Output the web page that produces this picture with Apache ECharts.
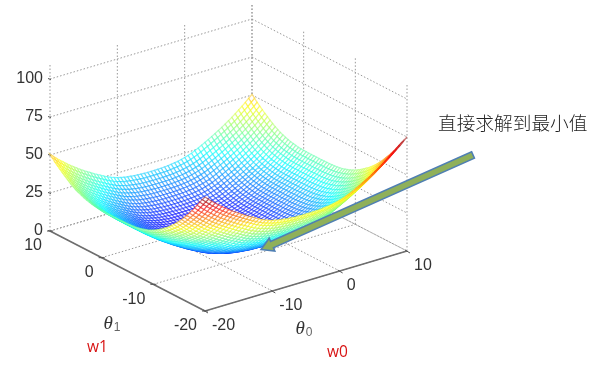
<!DOCTYPE html>
<html>
<head>
<meta charset="utf-8">
<style>html,body{margin:0;padding:0;background:#fff}#c{width:592px;height:381px}</style>
<script src="https://cdn.jsdelivr.net/npm/echarts@6/dist/echarts.min.js"></script>
</head>
<body>
<div id="c"></div>
<script>
// ---- values ----
const theta0Ticks = [-20, -10, 0, 10];
const theta1Ticks = [-20, -10, 0, 10];
const zTicks = [0, 25, 50, 75, 100];
const zMaxWall = 110;
const zColorMax = 75;
const meshStep = 0.5;
// height contribution along theta0, from -20 to 10 every 0.5
const bowlAlongTheta0 = [31,28.9,26.9,25,23.2,21.4,19.7,18.1,16.6,15.1,13.7,12.3,11,9.7,8.5,7.3,6.1,5,4,3.2,2.5,1.9,1.4,1,0.7,0.45,0.25,0.1,0.05,0,
  0,
  0,0.05,0.1,0.25,0.45,0.7,1,1.4,1.9,2.5,3.2,4,5,6.1,7.3,8.5,9.7,11,12.3,13.7,15.1,16.6,18.1,19.7,21.4,23.2,25,26.9,28.9,31];
// height contribution along theta1, from -20 to 10 every 0.5
const bowlAlongTheta1 = [44,41.4,38.9,36,33.3,30.7,28.2,25.8,23.5,21.3,19.2,17.2,15.4,13.7,12.1,10.6,9.3,8,6.8,5.7,4.7,3.8,3,2.4,1.8,1.3,0.9,0.6,0.4,0.25,0.15,0.1,0.05,0,0,0,
  0,
  0,0,0.05,0.1,0.2,0.4,0.7,1,1.4,1.9,2.5,3.2,4,5,6,7.2,8.5,9.9,11.3,12.8,14.3,15.9,17.7,19.5];
const annotation = '直接求解到最小值';
const redLabelTheta1 = 'w1';
const redLabelTheta0 = 'w0';

// ---- camera: parallel projection onto the page plane ----
function project(t0, t1, z) {
  const u = (t0 + 20) / 30, v = (t1 + 20) / 30;
  return [205 + 202 * u - 155 * v, 311 - 60 * u - 80 * v - 1.52 * z];
}
function jet(f) {
  f = Math.max(0, Math.min(1, f));
  const c = x => Math.round(255 * Math.max(0, Math.min(1, 1.5 - Math.abs(4 * f - x))));
  return 'rgb(' + c(3) + ',' + c(2) + ',' + c(1) + ')';
}

// ---- walls, floor, axes ----
const guide = [];
function seg(a, b, kind) { guide.push([a[0], a[1], b[0], b[1], kind]); }
theta0Ticks.forEach(t => {
  seg(project(t, -20, 0), project(t, 10, 0), 0);
  seg(project(t, 10, 0), project(t, 10, zMaxWall), 0);
});
theta1Ticks.forEach(t => {
  seg(project(-20, t, 0), project(10, t, 0), 0);
  seg(project(10, t, 0), project(10, t, zMaxWall), 0);
});
zTicks.forEach(z => {
  seg(project(-20, 10, z), project(10, 10, z), 0);
  seg(project(10, 10, z), project(10, -20, z), 0);
  const p = project(-20, 10, z);
  seg([p[0] - 2, p[1] - 0.5], [p[0] + 1, p[1] + 0.5], 1);
});
seg(project(-20, 10, 0), project(-20, -20, 0), 2);
seg(project(-20, -20, 0), project(10, -20, 0), 2);
theta1Ticks.forEach(t => {
  const p = project(-20, t, 0);
  seg([p[0] - 3, p[1]], [p[0] + 3, p[1]], 1);
});
theta0Ticks.forEach(t => {
  const p = project(t, -20, 0);
  seg([p[0] - 2, p[1] - 1], [p[0] + 3, p[1] + 2], 1);
});

// ---- mesh cells, far to near ----
const cells = [];
const n0 = bowlAlongTheta0.length, n1 = bowlAlongTheta1.length;
const height = (i, j) => bowlAlongTheta0[i] + bowlAlongTheta1[j];
const at = (i, j) => project(-20 + i * meshStep, -20 + j * meshStep, height(i, j));
for (let i = n0 - 2; i >= 0; i--) {
  for (let j = n1 - 2; j >= 0; j--) {
    const a = at(i, j), b = at(i + 1, j), c = at(i + 1, j + 1), d = at(i, j + 1);
    const z = (height(i, j) + height(i + 1, j) + height(i + 1, j + 1) + height(i, j + 1)) / 4;
    cells.push([a[0], a[1], b[0], b[1], c[0], c[1], d[0], d[1], z]);
  }
}

// ---- labels ----
const labels = [];
const tickFont = { fontFamily: 'Liberation Sans', fontSize: 16, fill: '#333' };
zTicks.forEach(z => {
  const p = project(-20, 10, z);
  labels.push({ x: p[0] - 7, y: p[1], text: String(z), align: 'right', style: tickFont });
});
theta1Ticks.forEach(t => {
  const p = project(-20, t, 0);
  labels.push({ x: p[0] - 8, y: p[1] + 15, text: String(t), align: 'right', style: tickFont });
});
theta0Ticks.forEach(t => {
  const p = project(t, -20, 0);
  labels.push({ x: p[0] + 7, y: p[1] + 15, text: String(t), align: 'left', style: tickFont });
});
const thetaRich = {
  a: { fontFamily: 'Liberation Serif', fontStyle: 'italic', fontSize: 19, fill: '#333' },
  b: { fontFamily: 'Liberation Sans', fontSize: 12, fill: '#666', padding: [8, 0, 0, 1] }
};
labels.push({ x: 112, y: 324, text: '{a|θ}{b|1}', align: 'center', style: { rich: thetaRich } });
labels.push({ x: 304, y: 329, text: '{a|θ}{b|0}', align: 'center', style: { rich: thetaRich } });
labels.push({ x: 87, y: 348, text: redLabelTheta1, align: 'left', style: { fontFamily: 'Open Sans', fontSize: 15.5, fill: '#d81313' } });
labels.push({ x: 327, y: 353, text: redLabelTheta0, align: 'left', style: { fontFamily: 'Open Sans', fontSize: 15.5, fill: '#d81313' } });
labels.push({ x: 438, y: 123, text: annotation, align: 'left', style: { fontFamily: 'Noto Sans CJK SC', fontWeight: 300, fontSize: 18.7, fill: '#222' } });

const chart = echarts.init(document.getElementById('c'), null, { renderer: 'canvas' });
chart.setOption({
  animation: false,
  backgroundColor: '#fff',
  grid: { left: 0, right: 0, top: 0, bottom: 0 },
  xAxis: { type: 'value', min: 0, max: 592, show: false },
  yAxis: { type: 'value', min: 0, max: 381, inverse: true, show: false },
  graphic: [{
    type: 'polygon', z: 100, silent: true,
    shape: { points: [[261,249.5],[274.8,251],[273.4,247.8],[474.4,158.2],[471.6,151.8],[270.6,241.4],[269.2,238.2]] },
    style: { fill: '#8fb05a', stroke: '#4f7fb3', lineWidth: 1.6 }
  }],
  series: [
    {
      type: 'custom', silent: true, z: 1, progressive: 0, clip: false,
      data: guide,
      renderItem: (params, api) => {
        const a = api.coord([api.value(0), api.value(1)]);
        const b = api.coord([api.value(2), api.value(3)]);
        const kind = api.value(4);
        return {
          type: 'line',
          shape: { x1: a[0], y1: a[1], x2: b[0], y2: b[1] },
          style: kind === 0
            ? { stroke: '#999', lineWidth: 1, lineDash: [1.5, 2] }
            : { stroke: kind === 2 ? '#6e6e6e' : '#555', lineWidth: kind === 2 ? 1.5 : 1 }
        };
      }
    },
    {
      type: 'custom', silent: true, z: 2, progressive: 0, clip: false,
      data: cells,
      renderItem: (params, api) => {
        const pts = [0, 2, 4, 6].map(k => api.coord([api.value(k), api.value(k + 1)]));
        return {
          type: 'polygon',
          shape: { points: pts },
          style: { fill: '#fff', stroke: jet(0.1 + 0.9 * api.value(8) / zColorMax), strokeOpacity: 0.5, lineWidth: 1.25 }
        };
      }
    },
    {
      type: 'custom', silent: true, z: 3, progressive: 0, clip: false,
      data: labels.map(l => [l.x, l.y]),
      renderItem: (params, api) => {
        const l = labels[params.dataIndex];
        const p = api.coord([api.value(0), api.value(1)]);
        return {
          type: 'text', x: p[0], y: p[1],
          style: Object.assign({ text: l.text, textAlign: l.align, textVerticalAlign: 'middle', align: l.align, verticalAlign: 'middle' }, l.style)
        };
      }
    }
  ]
});
</script>
</body>
</html>
